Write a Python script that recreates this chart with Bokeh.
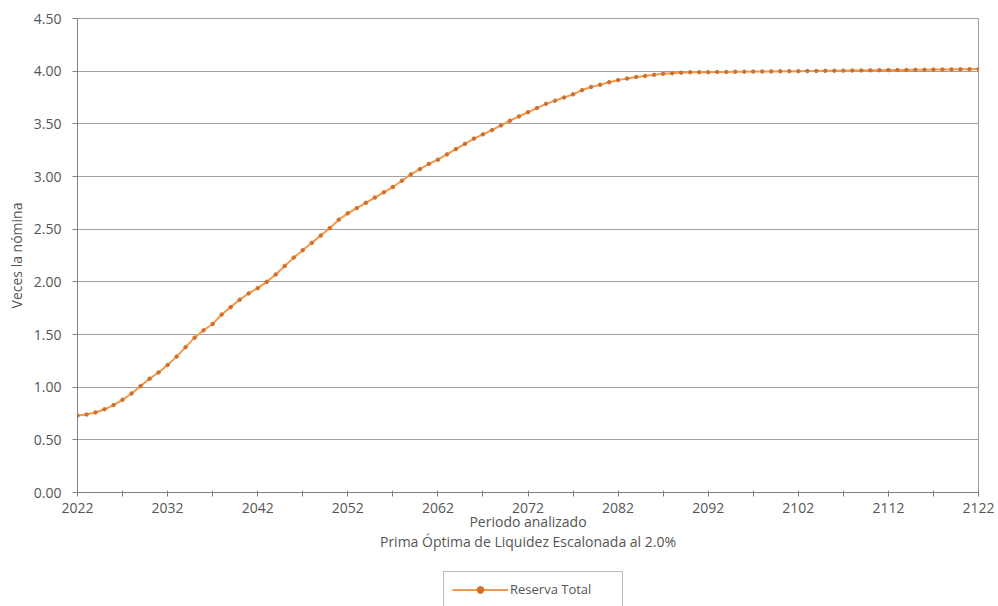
from bokeh.plotting import figure
from bokeh.layouts import column
from bokeh.models import Range1d, FixedTicker, Legend, LegendItem, Label, NumeralTickFormatter
from bokeh.embed import file_html
from bokeh.resources import INLINE

years = list(range(2022, 2123))
reserva_total = [
    0.73, 0.74, 0.76, 0.79, 0.83, 0.88, 0.94, 1.01, 1.08, 1.14,   # 2022-2031
    1.21, 1.29, 1.38, 1.47, 1.54, 1.60, 1.69, 1.76, 1.83, 1.89,   # 2032-2041
    1.94, 2.00, 2.07, 2.15, 2.23, 2.30, 2.37, 2.44, 2.51, 2.59,   # 2042-2051
    2.65, 2.70, 2.75, 2.80, 2.85, 2.90, 2.96, 3.02, 3.07, 3.12,   # 2052-2061
    3.16, 3.21, 3.26, 3.31, 3.36, 3.40, 3.44, 3.485, 3.53, 3.57,  # 2062-2071
    3.61, 3.65, 3.69, 3.72, 3.75, 3.78, 3.82, 3.85, 3.87, 3.895,  # 2072-2081
    3.915, 3.93, 3.945, 3.955, 3.965, 3.975, 3.98, 3.985, 3.99, 3.99,  # 2082-2091
    3.99, 3.992, 3.993, 3.994, 3.995, 3.996, 3.997, 3.998, 3.999, 4.0,  # 2092-2101
    4.0, 4.001, 4.002, 4.003, 4.004, 4.005, 4.006, 4.007, 4.008, 4.009,  # 2102-2111
    4.01, 4.011, 4.012, 4.013, 4.014, 4.015, 4.016, 4.017, 4.018, 4.019,  # 2112-2121
    4.02,  # 2122
]
assert len(reserva_total) == len(years)

x_major_ticks = [2022, 2032, 2042, 2052, 2062, 2072, 2082, 2092, 2102, 2112, 2122]
x_minor_ticks = [2027, 2037, 2047, 2057, 2067, 2077, 2087, 2097, 2107, 2117]
y_ticks = [0.0, 0.5, 1.0, 1.5, 2.0, 2.5, 3.0, 3.5, 4.0, 4.5]

series_name = "Reserva Total"
x_title = "Periodo analizado"
subtitle = "Prima Óptima de Liquidez Escalonada al 2.0%"
y_title = "Veces la nómina"

FONT = "Open Sans"
TXT = "#555555"
GRID = "#a0a0a0"
LINE = "#F39A4A"
DOT = "#D0702E"

W_LEFT, W_FRAME, W_RIGHT = 77, 901, 19
TOTAL_W = W_LEFT + W_FRAME + W_RIGHT

# ---------------- main chart ----------------
p = figure(
    frame_width=W_FRAME, frame_height=474,
    x_range=Range1d(years[0], years[-1]), y_range=Range1d(0, 4.5),
    output_backend="svg", toolbar_location=None,
    min_border_left=W_LEFT, min_border_top=18, min_border_right=W_RIGHT,
    min_border_bottom=40,
    background_fill_color="white", border_fill_color="white",
)
p.outline_line_color = GRID
p.outline_line_width = 1

line_r = p.line(years, reserva_total, line_color=LINE, line_width=2)
dot_r = p.scatter(years, reserva_total, size=3.5, marker="circle",
                  fill_color=DOT, line_color=DOT)

xa = p.xaxis[0]
xa.ticker = FixedTicker(ticks=x_major_ticks, minor_ticks=x_minor_ticks)
xa.axis_label = x_title
xa.axis_label_text_font = FONT
xa.axis_label_text_font_size = "14px"
xa.axis_label_text_font_style = "normal"
xa.axis_label_text_color = TXT
xa.axis_label_standoff = -4
xa.major_label_text_font = FONT
xa.major_label_text_font_size = "14px"
xa.major_label_text_color = TXT
xa.major_label_standoff = 6
xa.axis_line_color = "#808080"
xa.major_tick_line_color = "#808080"
xa.minor_tick_line_color = "#808080"
xa.major_tick_in = 2
xa.major_tick_out = 4
xa.minor_tick_in = 2
xa.minor_tick_out = 4

ya = p.yaxis[0]
ya.ticker = FixedTicker(ticks=y_ticks)
ya.formatter = NumeralTickFormatter(format="0.00")
ya.axis_label = y_title
ya.axis_label_text_font = FONT
ya.axis_label_text_font_size = "14px"
ya.axis_label_text_font_style = "normal"
ya.axis_label_text_color = TXT
ya.axis_label_standoff = 5
ya.major_label_text_font = FONT
ya.major_label_text_font_size = "14px"
ya.major_label_text_color = TXT
ya.major_label_standoff = 11
ya.axis_line_color = "#808080"
ya.major_tick_line_color = "#808080"
ya.major_tick_in = 0
ya.major_tick_out = 5
ya.minor_tick_line_color = None

p.xgrid.grid_line_color = None
p.ygrid.grid_line_color = GRID
p.ygrid.grid_line_width = 1

# ---------------- footer: subtitle + legend ----------------
# The column aligns this footer's frame with the chart frame (x from W_LEFT to W_LEFT+W_FRAME),
# so its x range is set in page pixels over that span.
FOOT_H = 74
foot = figure(
    width=TOTAL_W, height=FOOT_H,
    x_range=Range1d(W_LEFT, W_LEFT + W_FRAME), y_range=Range1d(FOOT_H, 0),
    x_axis_type=None, y_axis_type=None,
    output_backend="svg", toolbar_location=None,
    min_border_left=W_LEFT, min_border_right=W_RIGHT, min_border_top=0, min_border_bottom=0,
    outline_line_color=None,
    background_fill_color="white", border_fill_color="white",
)
foot.grid.visible = False

# legend sample glyphs (same series; they fall outside this footer's view)
leg_line = foot.line(years, reserva_total, line_color=LINE, line_width=2)
leg_dot = foot.scatter(years, reserva_total, size=3, marker="circle",
                       fill_color=DOT, line_color=DOT)

foot.add_layout(Label(x=W_LEFT + W_FRAME / 2, y=8, text=subtitle,
                      text_align="center", text_baseline="middle", text_font=FONT,
                      text_font_size="14px", text_color=TXT))

legend = Legend(
    items=[LegendItem(label=series_name, renderers=[leg_line, leg_dot])],
    orientation="horizontal", location=(443 - W_LEFT, 0),
    border_line_color="#7a7a7a", border_line_width=1,
    background_fill_color="white", background_fill_alpha=1,
    label_text_font=FONT, label_text_font_size="13px", label_text_color=TXT,
    glyph_width=56, glyph_height=17, label_height=17, label_width=104,
    label_standoff=2, padding=8, margin=0,
)
foot.add_layout(legend, "center")

layout = column(p, foot, spacing=0)
open("out.html", "w").write(file_html(layout, INLINE))
